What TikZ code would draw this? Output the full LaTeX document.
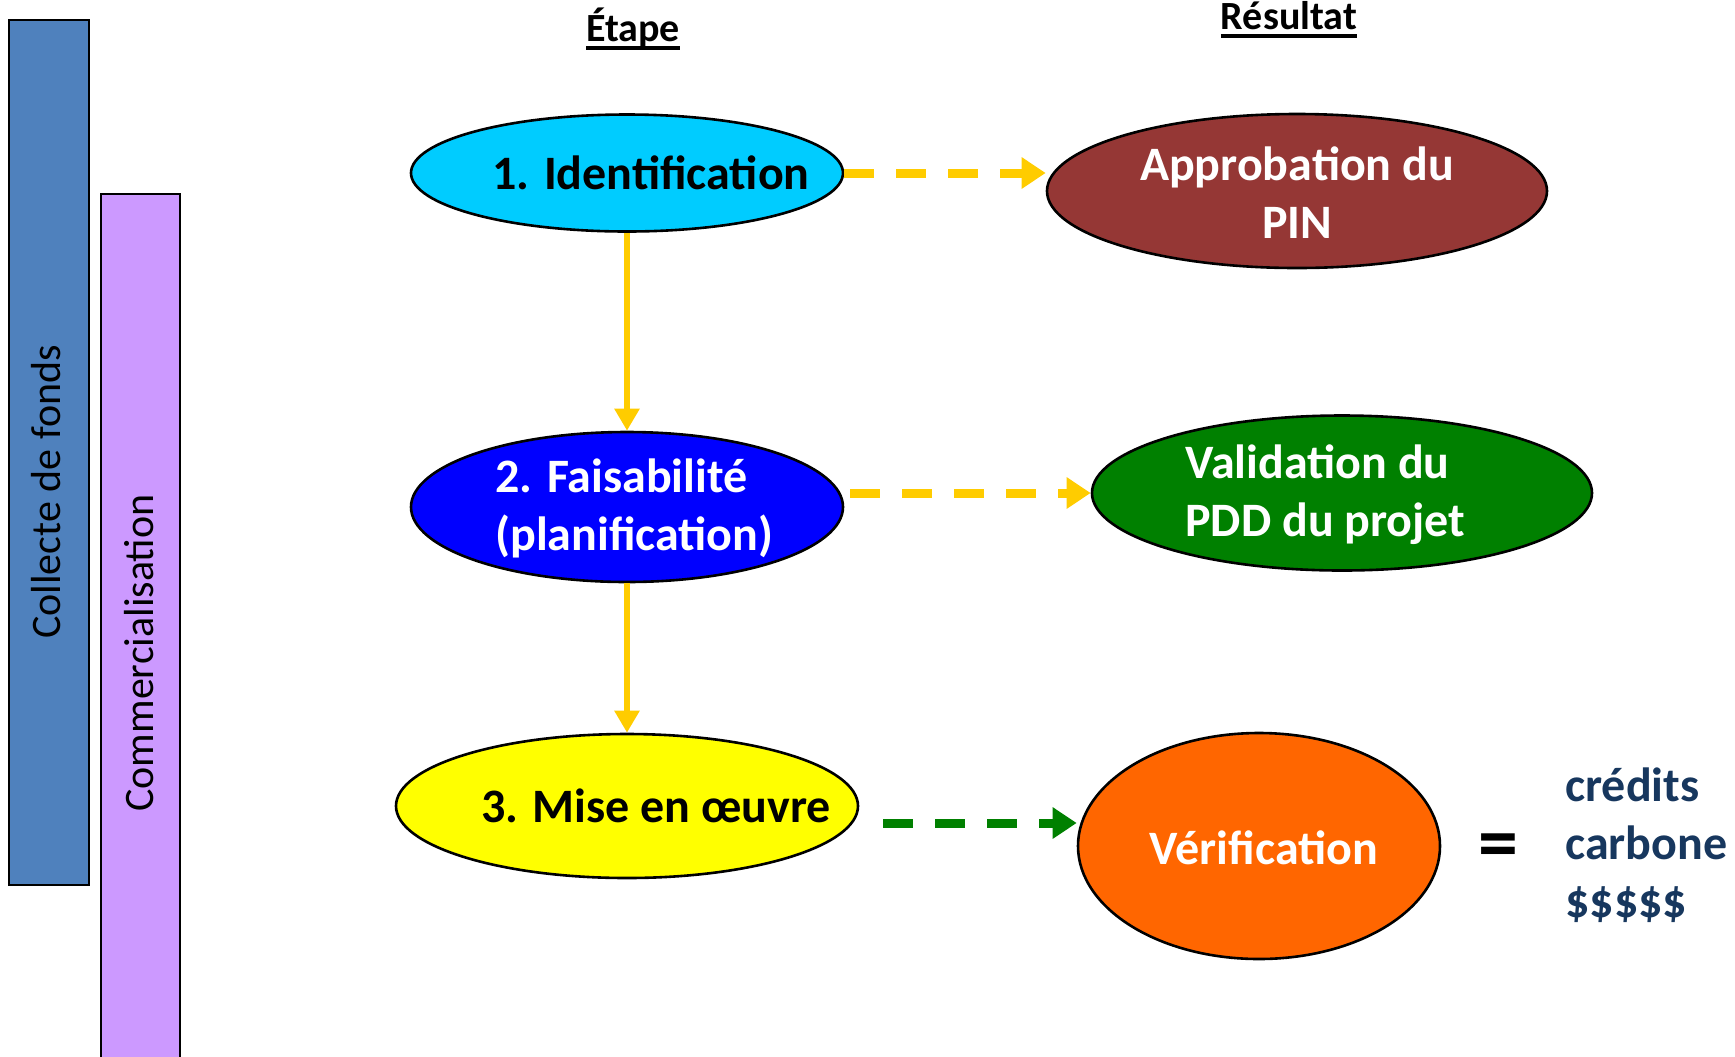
\documentclass[tikz,border=0pt]{standalone}
\usepackage{fontspec}
\setmainfont{Carlito}
\usepackage{xcolor}
\usepackage{tikz}
\usetikzlibrary{shapes.geometric,arrows.meta,positioning}

\definecolor{fondsblue}{HTML}{4F81BD}
\definecolor{commpurple}{HTML}{CC99FF}
\definecolor{identcyan}{HTML}{00CCFF}
\definecolor{faisablue}{HTML}{0000FF}
\definecolor{miseyellow}{HTML}{FFFF00}
\definecolor{pinbrown}{HTML}{953735}
\definecolor{validgreen}{HTML}{008000}
\definecolor{veriforange}{HTML}{FF6600}
\definecolor{arrowgold}{HTML}{FFCC00}
\definecolor{creditnavy}{HTML}{17375E}

\newcommand{\headul}[1]{\setbox0\hbox{#1}\rlap{\rule[-4.5pt]{\wd0}{2pt}}\box0}

\begin{document}
\begin{tikzpicture}[
    x=0.5pt, y=-0.5pt,
    bar/.style={draw, rectangle, line width=1.2pt, inner sep=0pt},
    bartext/.style={rotate=90, font=\fontsize{21}{21}\selectfont, inner sep=0pt},
    etape/.style={draw, ellipse, line width=1.3pt, inner sep=0pt},
    steptext/.style={font=\fontsize{24}{29}\selectfont\bfseries, inner sep=0pt},
    head/.style={font=\fontsize{20}{20}\selectfont\bfseries, inner sep=0pt, anchor=base},
    edge/.style={draw=arrowgold, line width=3pt, -{Triangle[length=11pt,width=12pt]}},
    dashedge/.style={draw=arrowgold, line width=4.5pt, dash pattern=on 15pt off 11pt,
        -{Triangle[length=12pt,width=15pt]}}
]
    \useasboundingbox (0,0) rectangle (1735,1056);

    % Bars at the left
    \node[bar, fill=fondsblue, minimum width=40pt, minimum height=432.5pt] (fondsbar) at (49,452.5) {};
    \node[bartext] (fonds) at (46,492) {Collecte de fonds};
    \node[bar, fill=commpurple, minimum width=39.5pt, minimum height=438pt] (commbar) at (140.5,632) {};
    \node[bartext] (comm) at (139,653) {Commercialisation};

    % Headings
    \node[head] (etapehead) at (633,41) {\headul{Étape}};
    \node[head] (resulthead) at (1289,29) {\headul{Résultat}};

    % Steps
    \node[etape, fill=identcyan, minimum width=216pt, minimum height=58.5pt] (ident) at (627,173) {};
    \node[steptext] (identlbl) at (651,173) {1. Identification};
    \node[etape, fill=faisablue, minimum width=216pt, minimum height=75pt] (faisa) at (627,507) {};
    \node[steptext, text=white, align=left, anchor=west] (faisalbl) at (495,508) {2. Faisabilité\\(planification)};
    \node[etape, fill=miseyellow, minimum width=231pt, minimum height=72pt] (mise) at (627,806) {};
    \node[steptext] (miselbl) at (656,806) {3. Mise en œuvre};

    % Results
    \node[etape, fill=pinbrown, minimum width=250pt, minimum height=77pt] (pin) at (1297,191) {};
    \node[steptext, text=white, align=center] (pinlbl) at (1297,193) {Approbation du\\PIN};
    \node[etape, fill=validgreen, minimum width=250pt, minimum height=77.5pt] (valid) at (1342,493) {};
    \node[steptext, text=white, align=left, anchor=west] (validlbl) at (1185,495) {Validation du\\PDD du projet};
    \node[etape, fill=veriforange, minimum width=181pt, minimum height=113pt] (verif) at (1259,846) {};
    \node[steptext, text=white] (veriflbl) at (1264,848) {Vérification};

    % Credits
    \node[font=\fontsize{40}{40}\selectfont\bfseries, inner sep=0pt] (equals) at (1498,852) {=};
    \node[steptext, text=creditnavy, align=left, anchor=west] (credits) at (1565,845) {crédits\\carbone\\\$\$\$\$\$};

    % Step to step
    \draw[edge] (ident.south) -- (faisa.north);
    \draw[edge] (faisa.south) -- (mise.north);

    % Step to result
    \draw[dashedge] (ident.east) -- (ident.east -| pin.west);
    \draw[dashedge, shorten <=3pt] (faisa.east |- valid.west) -- (valid.west);
    \draw[dashedge, draw=validgreen] ([shift={(12pt,-8.5pt)}]mise.east) -- ([yshift=11.5pt]verif.west);

\end{tikzpicture}
\end{document}
